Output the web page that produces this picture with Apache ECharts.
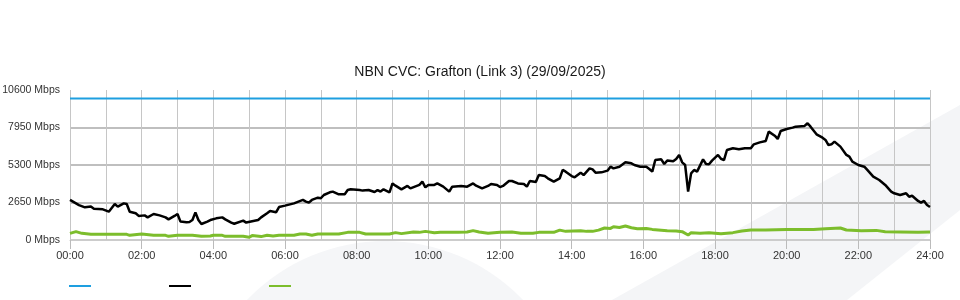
<!DOCTYPE html>
<html>
<head>
<meta charset="utf-8">
<script src="https://cdn.jsdelivr.net/npm/echarts@6/dist/echarts.min.js"></script>
<style>
  html, body { margin: 0; padding: 0; background: #ffffff; }
  #chart { width: 960px; height: 300px; }
</style>
</head>
<body>
<div id="chart"></div>
<script>
// ---- data (times in minutes since 00:00, values in Mbps) ----
const chartTitle = 'NBN CVC: Grafton (Link 3) (29/09/2025)';
const seriesNames = ['Capacity', 'Download', 'Upload'];
const yTicks = [0, 2650, 5300, 7950, 10600];
const xTickLabels = ['00:00','02:00','04:00','06:00','08:00','10:00','12:00','14:00','16:00','18:00','20:00','22:00','24:00'];

const capacityTimes = [0, 1440];
const capacityValues = [10000, 10000];

const downloadTimes = [
  0,15,25,35,40,55,65,75,80,90,95,100,110,115,125,130,140,150,160,165,175,180,185,195,200,205,210,215,220,230,
  235,245,255,260,270,275,290,295,315,320,330,335,345,350,360,375,390,395,400,405,415,420,425,435,440,450,460,465,470,485,
  490,500,510,515,520,525,535,540,545,555,565,570,585,590,595,600,610,615,625,635,640,655,665,675,680,690,700,705,715,720,
  725,735,740,750,760,765,770,780,785,795,800,810,820,825,830,840,845,855,860,870,875,880,890,900,905,910,920,930,940,945,
  955,965,970,975,980,990,995,1000,1010,1015,1020,1025,1030,1035,1040,1045,1050,1060,1065,1070,1075,1085,1090,1095,1100,1110,1120,1130,1140,1145,
  1155,1165,1170,1180,1185,1190,1200,1210,1215,1230,1235,1240,1250,1260,1265,1270,1275,1280,1290,1300,1305,1310,1320,1330,1335,1345,1355,1365,1375,1380,
  1390,1400,1405,1410,1420,1425,1430,1435,1440
];
const downloadValues = [
  2830,2470,2310,2360,2210,2170,2000,2540,2360,2590,2540,2000,1890,1700,1740,1600,1840,1740,1600,1460,1700,1840,1300,1250,1270,1410,1950,1410,1130,1300,
  1410,1530,1600,1460,1230,1150,1370,1230,1410,1600,1890,2050,1960,2330,2430,2590,2830,2710,2640,2830,2990,2950,3180,3370,3420,3230,3230,3530,3580,3530,
  3490,3530,3390,3530,3420,3580,3370,4000,3840,3580,3820,3650,3890,4120,3720,3890,3890,4000,3770,3420,3770,3820,3770,4000,3840,3650,3820,3960,3890,3740,
  3820,4170,4170,4000,3960,3770,4170,4100,4590,4520,4360,4120,4360,4950,4830,4520,4430,4760,4590,5060,4990,4760,4780,4900,5180,5060,5180,5490,5420,5300,
  5180,5180,5020,4830,5650,5700,5370,5610,5560,5720,6010,5490,5300,3420,4710,4950,4830,5700,5370,5350,5610,6010,5740,5650,6360,6480,6410,6480,6480,6760,
  6900,7000,7660,7370,7140,7700,7840,7940,8010,8060,8250,8010,7470,7230,7070,6710,6760,6950,6600,6010,5890,5540,5300,5180,4950,4480,4240,3890,3420,3300,
  3180,3300,3060,3130,2760,2640,2760,2470,2330
];

const uploadTimes = [
  0,10,20,35,95,100,120,140,160,165,180,205,220,235,240,255,260,290,300,305,320,330,340,350,375,385,395,405,415,450,
  465,485,495,520,535,545,555,575,585,595,610,620,650,665,675,685,700,720,740,755,775,785,810,820,830,855,865,875,885,895,
  905,910,920,930,940,950,965,975,1000,1015,1025,1035,1040,1055,1070,1090,1110,1125,1140,1165,1200,1245,1265,1290,1300,1325,1350,1365,1390,1420,
  1440
];
const uploadValues = [
  470,590,470,400,400,330,420,330,330,260,330,330,260,280,330,330,260,260,190,310,240,330,280,330,330,420,420,330,420,420,
  540,540,420,420,420,520,450,560,540,610,520,540,540,560,660,560,470,540,560,470,470,540,540,700,610,660,610,610,700,850,
  820,940,880,990,870,800,820,750,660,640,590,350,520,470,520,450,520,640,710,710,750,750,800,850,710,660,680,590,570,540,
  570
];

function pairs(times, values) {
  return times.map((t, i) => [t, values[i]]);
}

const FONT = '"Liberation Sans", Arial, sans-serif';
const chart = echarts.init(document.getElementById('chart'), null, { renderer: 'canvas' });

const option = {
  animation: false,
  backgroundColor: '#ffffff',
  textStyle: { fontFamily: FONT },
  graphic: [
    {
      type: 'polygon', z: -100, silent: true,
      shape: { points: [[612, 300], [960, 105], [960, 210], [847, 300]] },
      style: { fill: '#f4f5f7' }
    },
    {
      type: 'circle', z: -100, silent: true,
      shape: { cx: 385, cy: 432, r: 191 },
      style: { fill: '#f5f6f8' }
    }
  ],
  title: {
    text: chartTitle,
    left: 'center',
    top: 60,
    textStyle: { fontSize: 14, fontWeight: 'normal', color: '#1a1a1a', fontFamily: FONT }
  },
  legend: {
    left: 64,
    top: 280,
    icon: 'rect',
    itemWidth: 22,
    itemHeight: 2,
    itemGap: 78,
    formatter: () => '',
    data: seriesNames
  },
  grid: { left: 70, right: 30, top: 90, bottom: 60, containLabel: false, outerBoundsMode: 'none' },
  xAxis: {
    type: 'value',
    min: 0,
    max: 1440,
    interval: 120,
    axisLine: { show: true, lineStyle: { color: '#cccccc', width: 1 } },
    axisTick: { show: true, length: 9, lineStyle: { color: '#bbbbbb' } },
    axisLabel: {
      margin: 10,
      fontSize: 11,
      color: '#333333',
      fontFamily: FONT,
      formatter: (v) => xTickLabels[Math.round(v / 120)]
    },
    splitLine: { show: true, lineStyle: { color: '#c6c6c6', width: 1 } },
    minorTick: { show: false, splitNumber: 2 },
    minorSplitLine: { show: true, lineStyle: { color: '#c6c6c6', width: 1 } }
  },
  yAxis: {
    type: 'value',
    min: yTicks[0],
    max: yTicks[yTicks.length - 1],
    interval: yTicks[1] - yTicks[0],
    axisLine: { show: false },
    axisTick: { show: false },
    axisLabel: {
      margin: 10,
      fontSize: 10.5,
      color: '#333333',
      fontFamily: FONT,
      formatter: (v) => String(v) + ' Mbps'
    },
    splitLine: {
      show: true,
      lineStyle: { color: ['#cccccc', '#bfbfbf', '#bfbfbf', '#bfbfbf', 'rgba(0,0,0,0)'], width: 2 }
    }
  },
  series: [
    {
      name: seriesNames[0], type: 'line', showSymbol: false, z: 3,
      data: pairs(capacityTimes, capacityValues),
      itemStyle: { color: '#1e9fe0' },
      lineStyle: { color: '#1e9fe0', width: 2 }
    },
    {
      name: seriesNames[1], type: 'line', showSymbol: false, z: 4,
      data: pairs(downloadTimes, downloadValues),
      itemStyle: { color: '#000000' },
      lineStyle: { color: '#000000', width: 2.5 }
    },
    {
      name: seriesNames[2], type: 'line', showSymbol: false, z: 3,
      data: pairs(uploadTimes, uploadValues),
      itemStyle: { color: '#7cbd2c' },
      lineStyle: { color: '#7cbd2c', width: 3 }
    }
  ]
};

chart.setOption(option);
</script>
</body>
</html>
